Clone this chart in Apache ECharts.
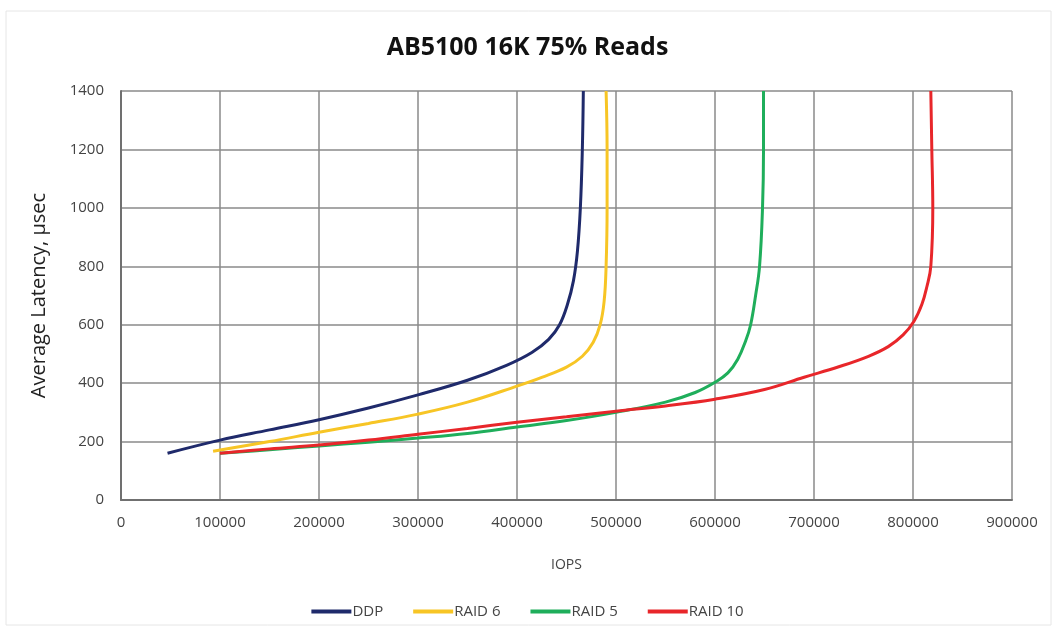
<!DOCTYPE html>
<html>
<head>
<meta charset="utf-8">
<script src="https://cdn.jsdelivr.net/npm/echarts@6/dist/echarts.min.js"></script>
<style>
  html, body { margin: 0; padding: 0; background: #fff; }
  #chart { width: 1055px; height: 630px; }
</style>
</head>
<body>
<div id="chart"></div>
<script>
// IOPS / latency pairs
var ddp = [[47000,160],[100000,205],[150000,240],[200000,275],[250000,315],[300000,360],[350000,410],[390000,462],[415000,505],[432000,550],[443000,600],[451000,670],[457000,750],[461000,850],[464000,1000],[466000,1200],[467000,1400]]
var raid6 = [[93000,167],[150000,200],[200000,232],[250000,262],[300000,294],[350000,335],[400000,390],[425000,420],[450000,455],[466000,492],[477000,540],[484000,600],[488000,680],[490000,800],[491000,1000],[491000,1200],[490000,1400]]
var raid5 = [[100000,160],[150000,172],[200000,185],[250000,198],[300000,212],[350000,228],[400000,250],[450000,272],[500000,300],[550000,335],[580000,368],[600000,403],[613000,435],[623000,482],[631000,545],[636000,600],[641000,700],[645000,800],[648000,1000],[649000,1200],[649000,1400]]
var raid10 = [[100000,160],[150000,175],[200000,188],[250000,205],[300000,225],[350000,245],[400000,266],[450000,285],[500000,304],[550000,322],[600000,345],[650000,378],[690000,420],[725000,456],[755000,492],[775000,525],[790000,565],[801000,612],[809000,670],[814000,730],[818000,800],[820000,1000],[819000,1200],[818000,1400]]
var seriesNames = ['DDP', 'RAID 6', 'RAID 5', 'RAID 10']
var seriesColors = ['#1f2a6b', '#f7c525', '#1fae5b', '#e8262a']

var chart = echarts.init(document.getElementById('chart'))
var txt = '#444'
var font = '"Open Sans", "Noto Sans", sans-serif'

var option = {
    animation: false,
    color: seriesColors,
    textStyle: { fontFamily: font },
    title: {
        text: 'AB5100 16K 75% Reads',
        left: 'center',
        top: 30,
        textStyle: { fontSize: 25, fontWeight: 'bold', color: '#111', fontFamily: font }
    },
    graphic: [{
        type: 'rect',
        shape: { x: 6, y: 11, width: 1045, height: 614 },
        style: { fill: 'none', stroke: '#e6e6e6', lineWidth: 1 },
        silent: true
    }],
    grid: { left: 121, right: 43, top: 91, bottom: 130 },
    legend: {
        bottom: 6,
        left: 'center',
        itemWidth: 40,
        itemHeight: 4,
        itemGap: 30,
        icon: 'rect',
        textStyle: { color: txt, fontSize: 15, padding: [0, 0, 0, -4] },
        data: seriesNames
    },
    xAxis: {
        type: 'value',
        min: 0,
        max: 900000,
        interval: 100000,
        name: 'IOPS',
        nameLocation: 'middle',
        nameGap: 58,
        nameTextStyle: { color: txt, fontSize: 14 },
        axisLine: { lineStyle: { color: '#707070', width: 2 } },
        axisTick: { show: false },
        axisLabel: { color: txt, fontSize: 15, margin: 15, formatter: function (v) { return String(v) } },
        splitLine: { show: true, lineStyle: { color: '#8a8a8a', width: 1.5 } }
    },
    yAxis: {
        type: 'value',
        min: 0,
        max: 1400,
        interval: 200,
        name: 'Average Latency, µsec',
        nameLocation: 'middle',
        nameGap: 72,
        nameTextStyle: { color: '#222', fontSize: 20 },
        axisLine: { show: true, lineStyle: { color: '#707070', width: 2 } },
        axisTick: { show: false },
        axisLabel: { color: txt, fontSize: 15, margin: 17, formatter: function (v) { return String(v) } },
        splitLine: { show: true, lineStyle: { color: '#8a8a8a', width: 1.5 } }
    },
    series: [ddp, raid6, raid5, raid10].map(function (d, i) {
        return {
            name: seriesNames[i],
            type: 'line',
            data: d,
            smooth: 0.4,
            symbol: 'none',
            lineStyle: { width: 3 }
        }
    })
}
chart.setOption(option)
</script>
</body>
</html>
